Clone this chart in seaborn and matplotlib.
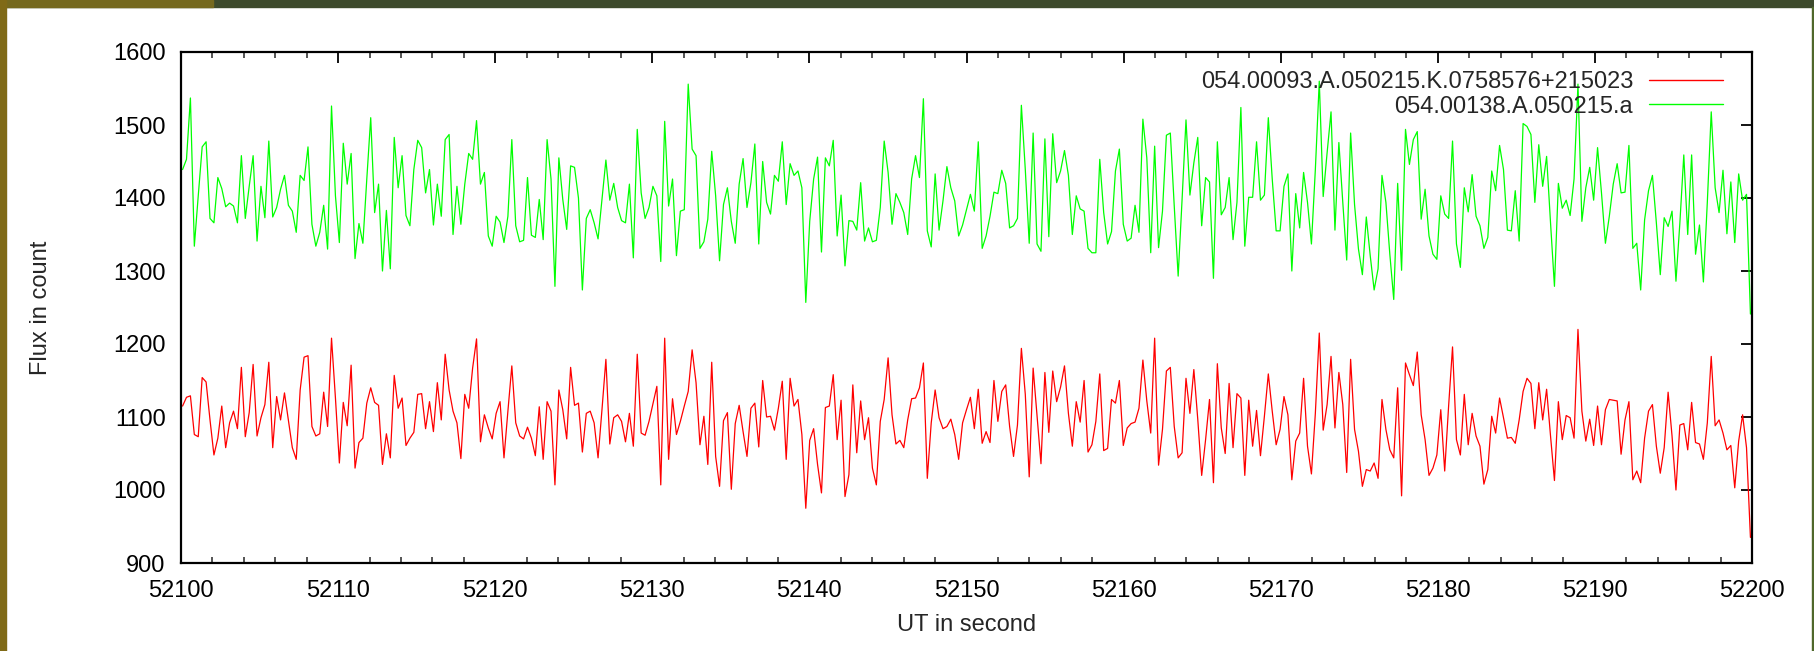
import matplotlib

matplotlib.use("Agg")
import matplotlib.pyplot as plt
import matplotlib.patches as mpatches
import numpy as np
import pandas as pd
import seaborn as sns


# light curves, 0.25 s sampling between T_START and T_END
T_START = 52100.1
T_END = 52199.9

LABEL_RED = "054.00093.A.050215.K.0758576+215023"
LABEL_GREEN = "054.00138.A.050215.a"

flux_red = [
    1115, 1127, 1129, 1076, 1073, 1154, 1148, 1096, 1048, 1071, 1115, 1058, 1092, 1108, 1084, 1168,
    1073, 1106, 1172, 1074, 1099, 1117, 1175, 1058, 1128, 1096, 1133, 1096, 1058, 1042, 1137, 1182,
    1184, 1087, 1074, 1077, 1134, 1087, 1208, 1126, 1037, 1120, 1088, 1171, 1030, 1065, 1071, 1119,
    1140, 1120, 1116, 1035, 1077, 1044, 1157, 1112, 1126, 1061, 1071, 1079, 1131, 1132, 1084, 1121,
    1080, 1147, 1096,
    1186, 1137, 1108, 1092, 1043, 1131, 1112, 1167, 1207, 1066, 1103, 1085, 1070, 1105, 1121, 1044,
    1108, 1170, 1092, 1074, 1070, 1086, 1071, 1047, 1114, 1042, 1121, 1108, 1007, 1137, 1110, 1070,
    1168, 1116, 1119, 1052, 1105, 1108, 1092, 1044, 1110, 1179, 1063, 1099, 1103, 1094, 1066, 1105,
    1060, 1186, 1078, 1075, 1094, 1118, 1142, 1007, 1208, 1042, 1125, 1076, 1094, 1115, 1135, 1192,
    1147, 1062, 1101,
    1035, 1175, 1046, 1005, 1095, 1106, 1001, 1091, 1116, 1080, 1046, 1112, 1119, 1059, 1150, 1100,
    1101, 1082, 1112, 1149, 1042, 1153, 1115, 1124, 1076, 975, 1068, 1084, 1035, 996, 1113, 1115,
    1158, 1069, 1123, 991, 1021, 1144, 1051, 1122, 1069, 1099, 1030, 1007, 1094, 1124, 1181, 1103,
    1063, 1068, 1058, 1096, 1125, 1126, 1140, 1174, 1016, 1092, 1137, 1099, 1084, 1087, 1097, 1076,
    1042, 1092, 1110,
    1127, 1084, 1138, 1064, 1080, 1065, 1150, 1094, 1135, 1144, 1087, 1046, 1089, 1194, 1131, 1018,
    1167, 1101, 1036, 1161, 1079, 1163, 1121, 1141, 1170, 1105, 1060, 1121, 1093, 1150, 1052, 1062,
    1094, 1159, 1054, 1057, 1124, 1119, 1150, 1061, 1085, 1091, 1093, 1112, 1178, 1122, 1078, 1208,
    1034, 1083, 1163, 1168, 1087, 1044, 1051, 1153, 1105, 1165, 1097, 1020, 1069, 1124, 1010, 1173,
    1085, 1050, 1146,
    1058, 1132, 1126, 1020, 1123, 1060, 1109, 1047, 1101, 1159, 1108, 1062, 1083, 1128, 1103, 1014,
    1067, 1078, 1153, 1060, 1022, 1105, 1215, 1082, 1117, 1183, 1085, 1161, 1117, 1024, 1179, 1083,
    1053, 1005, 1028, 1026, 1037, 1016, 1124, 1083, 1055, 1044, 1140, 992, 1174, 1158, 1143, 1189,
    1103, 1069, 1020, 1030, 1048, 1110, 1026, 1115, 1196, 1069, 1048, 1131, 1062, 1105, 1074, 1060,
    1008, 1028, 1101,
    1078, 1126, 1099, 1071, 1072, 1064, 1096, 1135, 1153, 1146, 1084, 1147, 1096, 1138, 1074, 1013,
    1121, 1069, 1102, 1099, 1071, 1220, 1108, 1067, 1097, 1061, 1115, 1062, 1110, 1124, 1123, 1122,
    1049, 1096, 1121, 1014, 1026, 1010, 1071, 1108, 1117, 1060, 1023, 1058, 1134, 1074, 1000, 1089,
    1091, 1055, 1120, 1065, 1063, 1042, 1092, 1183, 1088, 1096, 1078, 1055, 1061, 1003, 1067, 1103,
    1058, 935,
]

flux_green = [
    1439, 1453, 1537, 1334, 1403, 1470, 1477, 1372, 1366, 1428, 1413, 1388, 1393, 1389, 1366, 1458,
    1372, 1416, 1458, 1341, 1416, 1373, 1478, 1374, 1387, 1412, 1431, 1390, 1382, 1353, 1431, 1424,
    1470, 1364, 1334, 1353, 1390, 1330, 1526, 1403, 1339, 1475, 1419, 1461, 1317, 1365, 1338, 1426,
    1510, 1380, 1419, 1300, 1383, 1303, 1483, 1414, 1458, 1376, 1362, 1439, 1479, 1469, 1407, 1439,
    1363, 1419, 1375,
    1480, 1487, 1350, 1416, 1364, 1419, 1461, 1453, 1506, 1419, 1435, 1348, 1334, 1375, 1367, 1339,
    1375, 1480, 1362, 1340, 1342, 1428, 1349, 1346, 1398, 1343, 1480, 1426, 1279, 1455, 1398, 1357,
    1444, 1442, 1400, 1274, 1372, 1384, 1366, 1344, 1398, 1452, 1397, 1420, 1387, 1369, 1366, 1419,
    1318, 1494, 1407, 1372, 1387, 1416, 1403, 1313, 1505, 1389, 1426, 1321, 1382, 1384, 1556, 1467,
    1458, 1331, 1340,
    1371, 1464, 1403, 1314, 1391, 1414, 1368, 1338, 1419, 1454, 1387, 1421, 1474, 1337, 1450, 1394,
    1378, 1431, 1423, 1477, 1391, 1447, 1431, 1437, 1414, 1257, 1368, 1426, 1456, 1326, 1455, 1444,
    1479, 1348, 1404, 1307, 1369, 1368, 1356, 1421, 1341, 1359, 1340, 1342, 1387, 1478, 1435, 1364,
    1406, 1394, 1380, 1350, 1426, 1458, 1428, 1536, 1355, 1333, 1433, 1356, 1396, 1443, 1414, 1396,
    1348, 1363, 1384,
    1405, 1382, 1477, 1331, 1348, 1375, 1408, 1406, 1438, 1420, 1359, 1362, 1372, 1527, 1439, 1338,
    1489, 1337, 1327, 1481, 1347, 1488, 1421, 1437, 1465, 1431, 1350, 1403, 1385, 1382, 1331, 1325,
    1325, 1453, 1380, 1337, 1354, 1437, 1467, 1364, 1341, 1345, 1390, 1353, 1508, 1455, 1325, 1471,
    1332, 1382, 1486, 1489, 1389, 1293, 1398, 1507, 1404, 1448, 1483, 1362, 1428, 1422, 1290, 1477,
    1377, 1387, 1428,
    1343, 1394, 1524, 1334, 1401, 1401, 1477, 1397, 1404, 1510, 1426, 1355, 1355, 1416, 1433, 1300,
    1406, 1359, 1435, 1394, 1337, 1439, 1560, 1402, 1462, 1518, 1356, 1476, 1394, 1315, 1489, 1391,
    1330, 1295, 1374, 1321, 1274, 1303, 1431, 1394, 1323, 1261, 1420, 1301, 1494, 1446, 1480, 1491,
    1371, 1412, 1348, 1323, 1316, 1403, 1378, 1372, 1478, 1337, 1305, 1414, 1381, 1432, 1375, 1362,
    1331, 1346, 1437,
    1410, 1472, 1439, 1356, 1355, 1410, 1341, 1502, 1498, 1487, 1394, 1473, 1416, 1457, 1366, 1279,
    1420, 1386, 1397, 1376, 1426, 1556, 1368, 1414, 1442, 1397, 1469, 1407, 1338, 1375, 1419, 1447,
    1407, 1408, 1472, 1331, 1338, 1274, 1370, 1410, 1431, 1366, 1295, 1373, 1361, 1382, 1286, 1366,
    1459, 1350, 1459, 1323, 1363, 1285, 1394, 1518, 1414, 1380, 1438, 1351, 1422, 1339, 1433, 1397,
    1405, 1241,
]

X_TICKS = [52100, 52110, 52120, 52130, 52140, 52150, 52160, 52170, 52180, 52190, 52200]
Y_TICKS = [900, 1000, 1100, 1200, 1300, 1400, 1500, 1600]

RED = "#ff0000"
GREEN = "#00ff00"
FONT_SIZE = 17


def build_frame() -> pd.DataFrame:
    ut = np.linspace(T_START, T_END, len(flux_red))
    red = pd.DataFrame({"ut": ut, "flux": flux_red, "star": LABEL_RED})
    green = pd.DataFrame({"ut": ut, "flux": flux_green, "star": LABEL_GREEN})
    return pd.concat([red, green], ignore_index=True)


def add_page_border(fig: plt.Figure) -> None:
    # slide-style strips around the picture
    fig.patches.extend([
        mpatches.Rectangle((0, 1 - 7 / 651), 1, 7 / 651, transform=fig.transFigure,
                           color="#3d4a2c", zorder=0),
        mpatches.Rectangle((0, 1 - 7 / 651), 213 / 1815, 7 / 651, transform=fig.transFigure,
                           color="#75691f", zorder=1),
        mpatches.Rectangle((0, 0), 6 / 1815, 1, transform=fig.transFigure,
                           color="#806a17", zorder=1),
        mpatches.Rectangle((1 - 3 / 1815, 0), 3 / 1815, 1 - 7 / 651, transform=fig.transFigure,
                           color="#4f682b", zorder=1),
    ])


def main() -> None:
    sns.set_theme(style="white")
    plt.rcParams["font.family"] = ["Liberation Sans", "DejaVu Sans"]

    df = build_frame()

    fig = plt.figure(figsize=(18.15, 6.51), dpi=100)
    ax = fig.add_axes([181 / 1815, 1 - 563 / 651, 1571 / 1815, 511 / 651])

    sns.lineplot(
        data=df,
        x="ut",
        y="flux",
        hue="star",
        palette={LABEL_RED: RED, LABEL_GREEN: GREEN},
        estimator=None,
        sort=False,
        linewidth=0.9,
        ax=ax,
    )

    ax.set_xlim(52100, 52200)
    ax.set_ylim(900, 1600)
    ax.set_xticks(X_TICKS)
    ax.set_xticks(np.arange(52100, 52201, 2), minor=True)
    ax.set_yticks(Y_TICKS)
    ax.tick_params(axis="both", which="major", direction="in", length=8, width=1.3,
                   top=True, right=True, labelsize=FONT_SIZE, colors="black", pad=11)
    ax.tick_params(axis="x", which="minor", direction="in", length=4, width=1.1,
                   top=True, bottom=True)
    ax.tick_params(axis="x", which="major", pad=12)
    for spine in ax.spines.values():
        spine.set_visible(True)
        spine.set_color("black")
        spine.set_linewidth(1.6)

    ax.set_xlabel("UT in second", fontsize=FONT_SIZE, labelpad=9)
    ax.set_ylabel("Flux in count", fontsize=FONT_SIZE, labelpad=44)
    ax.grid(False)

    leg = ax.legend(
        loc="upper right",
        bbox_to_anchor=(1 - 29 / 1571, 1 - 19 / 511),
        markerfirst=False,
        frameon=False,
        fontsize=FONT_SIZE,
        handlelength=3.13,
        handletextpad=0.68,
        labelspacing=0.11,
        borderpad=0,
        borderaxespad=0,
    )
    for line in leg.get_lines():
        line.set_linewidth(1.0)

    add_page_border(fig)
    fig.savefig("out.png", dpi=100, facecolor="white")
    plt.close(fig)


if __name__ == "__main__":
    main()
